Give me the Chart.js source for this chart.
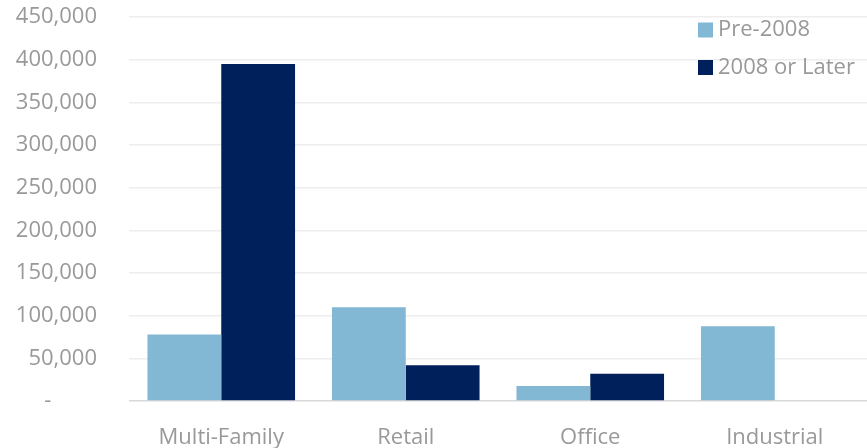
<!DOCTYPE html>
<html>
<head>
<meta charset="utf-8">
<script src="https://cdn.jsdelivr.net/npm/chart.js@4"></script>
<style>
  html, body { margin: 0; padding: 0; background: #fff; }
  #wrap { width: 867px; height: 448px; }
</style>
</head>
<body>
<div id="wrap"><canvas class="chart"></canvas></div>
<script>
const categories = ["Multi-Family", "Retail", "Office", "Industrial"];
const seriesNames = ["Pre-2008", "2008 or Later"];
const pre2008 = [78000, 110000, 17500, 87500];
const later2008 = [395000, 42000, 32000, 0];
const yTicks = [0, 50000, 100000, 150000, 200000, 250000, 300000, 350000, 400000, 450000];

const ctx = document.querySelector(".chart");
const FONT = "'Open Sans', 'Noto Sans', sans-serif";

// legend drawn over the plot, top right, like the original
const overlayLegend = {
  id: "overlayLegend",
  afterDraw(chart) {
    const c = chart.ctx;
    c.save();
    c.font = "22px " + FONT;
    c.textBaseline = "middle";
    chart.data.datasets.forEach((ds, i) => {
      const y = 30 + i * 37.5;
      c.fillStyle = ds.backgroundColor;
      c.fillRect(698, y - 7.5, 15, 15);
      c.fillStyle = "#999";
      c.fillText(ds.label, 718, y);
    });
    c.restore();
  }
};

new Chart(ctx, {
  type: "bar",
  data: {
    labels: categories,
    datasets: [
      {
        label: seriesNames[0],
        data: pre2008,
        backgroundColor: "#82b8d3",
        borderWidth: 0,
      },
      {
        label: seriesNames[1],
        data: later2008,
        backgroundColor: "#00205c",
        borderWidth: 0,
      },
    ],
  },
  options: {
    responsive: true,
    maintainAspectRatio: false,
    animation: false,
    layout: { padding: { top: 17, left: 0, right: 0, bottom: 0 } },
    datasets: {
      bar: { categoryPercentage: 0.8, barPercentage: 1.0 },
    },
    scales: {
      y: {
        min: 0,
        max: 450000,
        border: { display: false },
        grid: {
          color: (c) => (c.tick && c.tick.value === 0 ? "#d9d9d9" : "#eeeeee"),
          lineWidth: 1.5,
          drawTicks: true,
          tickLength: 32,
          tickColor: "rgba(0,0,0,0)",
        },
        afterBuildTicks: (axis) => {
          axis.ticks = yTicks.map((v) => ({ value: v }));
        },
        afterFit: (axis) => {
          axis.width = 129;
        },
        ticks: {
          padding: 0,
          color: "#999",
          font: { family: FONT, size: 22 },
          callback: (v) => (v === 0 ? "-        " : v.toLocaleString("en-US")),
        },
      },
      x: {
        border: { display: false },
        grid: { display: false, drawTicks: false },
        afterFit: (axis) => {
          axis.height = 47;
        },
        ticks: {
          padding: 24,
          color: "#999",
          font: { family: FONT, size: 22 },
        },
      },
    },
    plugins: {
      legend: { display: false },
      tooltip: { enabled: false },
    },
  },
  plugins: [overlayLegend],
});
</script>
</body>
</html>
